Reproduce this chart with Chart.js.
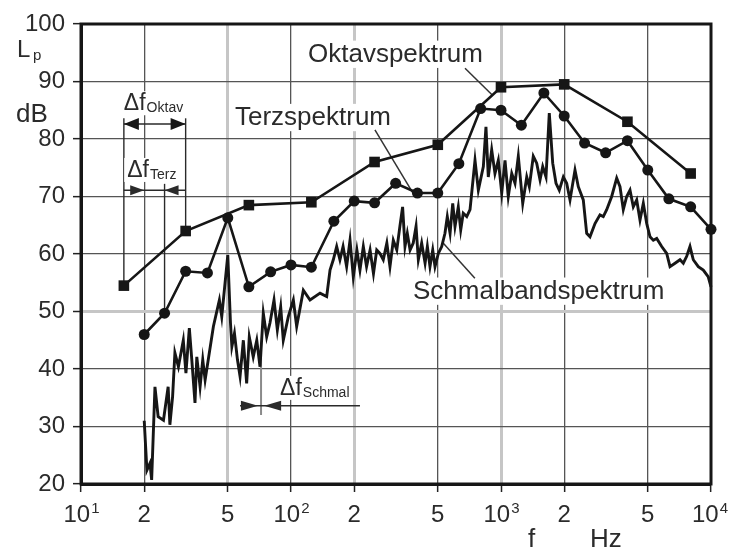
<!DOCTYPE html>
<html>
<head>
<meta charset="utf-8">
<script src="https://cdn.jsdelivr.net/npm/chart.js@4.4.0/dist/chart.umd.min.js"></script>
<style>
  html, body { margin: 0; padding: 0; background: #fff; }
  #wrap { width: 729px; height: 549px; }
</style>
</head>
<body>
<div id="wrap"><canvas id="spectrum" width="729" height="549"></canvas></div>
<script>
// axis ticks: frequency in Hz, level in dB
const xTicks = [10, 20, 50, 100, 200, 500, 1000, 2000, 5000, 10000];
const yTicks = [20, 30, 40, 50, 60, 70, 80, 90, 100];

// octave band spectrum
const octFreq = [16, 31.5, 63, 125, 250, 500, 1000, 2000, 4000, 8000];
const octLevel = [54.5, 64, 68.5, 69, 76, 79, 89, 89.5, 83, 74];

// one-third octave band spectrum
const terzFreq = [20, 25, 31.5, 40, 50, 63, 80, 100, 125, 160, 200, 250, 315, 400, 500,
  630, 800, 1000, 1250, 1600, 2000, 2500, 3150, 4000, 5000, 6300, 8000, 10000];
const terzLevel = [46, 49.7, 57, 56.7, 66.3, 54.3, 56.9, 58.1, 57.7, 65.7, 69.2, 68.9, 72.3, 70.6, 70.6,
  75.7, 85.3, 85, 82.4, 88, 84, 79.3, 77.6, 79.7, 74.6, 69.6, 68.2, 64.3];

// narrow band spectrum
const narrowFreq = [20, 20.6, 21.3, 21.7, 22.5, 23.3, 24.7, 26, 26.5, 27.3, 28, 29.1, 30.7, 31.6, 32.8,
  33.7, 34.9, 35.6, 36.9, 38, 39, 42.7, 45.6, 46.8, 50, 51.5, 52.3, 53.8, 55.6, 57.2,
  59.3, 61.5, 63.3, 66.1, 68.7, 71.2, 73.8, 76.6, 79.4, 83, 86.1, 89.3, 91.9, 97.1, 102.6,
  106.4, 114.5, 123.2, 137.5, 147.9, 153.4, 159, 165, 171, 177, 184, 191, 198, 206, 213,
  221, 229, 238, 247, 256, 265, 275, 286, 296, 307, 319, 330, 340, 349, 358,
  369, 382, 394, 404, 419, 435, 446, 459, 473, 485, 503, 522, 541, 555, 572,
  589, 604, 626, 643, 661, 687, 712, 752, 780, 824, 848, 870, 903, 936, 971,
  1008, 1045, 1083, 1125, 1166, 1209, 1269, 1326, 1364, 1425, 1479, 1534, 1580, 1638, 1698,
  1763, 1828, 1895, 1981, 2055, 2131, 2251, 2334, 2465, 2559, 2653, 2803, 2960, 3070, 3186,
  3366, 3556, 3687, 3823, 3968, 4114, 4266, 4428, 4591, 4761, 4941, 5124, 5313, 5514, 5824,
  6152, 6379, 6740, 7119, 7381, 7661, 7943, 8235, 8700, 9190, 9710, 10000];
const narrowLevel = [31, 22.4, 23.6, 20.7, 36.9, 31.7, 31.1, 36.9, 30.3, 35.2, 42.8, 40.4, 45, 39.3, 47.1,
  41.6, 34.1, 42.1, 36.9, 41.6, 38.1, 47.4, 52, 49.1, 59.8, 48, 43.9, 46.2, 41.6, 38.7,
  45, 37.5, 45.6, 42.1, 45, 40.4, 49.7, 45.6, 48, 52, 46.8, 50.8, 45, 49.1, 52,
  47.4, 53.7, 52, 53.2, 52.6, 57.2, 59, 61.3, 59, 61.3, 57.8, 62.4, 56, 60.7, 57.2,
  61.3, 57.8, 60.7, 56.6, 60.7, 60.1, 59, 61.9, 57.8, 62.4, 60.7, 64.8, 68.2, 61.3, 63.6,
  60.7, 61.9, 64.8, 59, 61.9, 58.4, 61.3, 57.8, 60.7, 57.8, 60.1, 61.3, 63.6, 66.5, 63.6,
  68.8, 64.8, 68.2, 64.2, 67.1, 66.5, 67.7, 76.3, 71.1, 75.2, 82.1, 73.4, 78.1, 74, 76.3,
  70.6, 76.3, 70, 74, 72.3, 77, 68.8, 73.4, 71.7, 77, 75.8, 72.9, 75.2, 73.4, 84.5,
  75.8, 72.3, 71.1, 73.4, 72.3, 69.4, 74.6, 71.7, 69.4, 63.6, 63, 65.3, 66.8, 66.5, 67.7,
  70, 73.2, 71.7, 67.7, 70, 71.1, 68.2, 69.4, 65.9, 68.8, 65.3, 63, 62.4, 62.7, 61.3,
  60.1, 57.8, 58.4, 59, 58.4, 59.6, 61.3, 59, 57.8, 57.2, 56, 54.3];

const FONT = '"Liberation Sans", Arial, Helvetica, sans-serif';
const INK = '#161616';
const TEXT = '#2b2b2b';

// grid lines printed as wide light-grey strokes
const softX = [50, 200, 1000];
const softY = [50];

function toPoints(xs, ys) {
  return xs.map((x, i) => ({ x: x, y: ys[i] }));
}

function arrowHead(ctx, tipX, tipY, dir, len, half) {
  ctx.beginPath();
  ctx.moveTo(tipX, tipY);
  ctx.lineTo(tipX - dir * len, tipY - half);
  ctx.lineTo(tipX - dir * len, tipY + half);
  ctx.closePath();
  ctx.fill();
}

function line(ctx, x1, y1, x2, y2) {
  ctx.beginPath();
  ctx.moveTo(x1, y1);
  ctx.lineTo(x2, y2);
  ctx.stroke();
}

// text on a white patch so the grid breaks behind it
function patchText(ctx, text, x, y, size) {
  ctx.font = size + 'px ' + FONT;
  const w = ctx.measureText(text).width;
  ctx.fillStyle = '#fff';
  ctx.fillRect(x - 3, y - size * 0.82, w + 6, size * 1.05);
  ctx.fillStyle = TEXT;
  ctx.fillText(text, x, y);
  return w;
}

// "Δf" with a subscript
function deltaLabel(ctx, sub, x, y) {
  ctx.font = '23px ' + FONT;
  const w1 = ctx.measureText('\u0394f').width;
  ctx.font = '14px ' + FONT;
  const w2 = ctx.measureText(sub).width;
  ctx.fillStyle = '#fff';
  ctx.fillRect(x - 3, y - 19, w1 + w2 + 6, 24);
  ctx.fillStyle = TEXT;
  ctx.font = '23px ' + FONT;
  ctx.fillText('\u0394f', x, y);
  ctx.font = '14px ' + FONT;
  ctx.fillText(sub, x + w1 + 1, y + 2);
}

const decor = {
  id: 'decor',
  beforeDatasetsDraw(chart) {
    const { ctx, chartArea: a, scales } = chart;
    const px = f => scales.x.getPixelForValue(f);
    const py = v => scales.y.getPixelForValue(v);
    ctx.save();
    ctx.textBaseline = 'alphabetic';
    ctx.textAlign = 'left';

    // curve names and leader lines
    patchText(ctx, 'Oktavspektrum', px(120.5), py(93.4), 26);
    patchText(ctx, 'Terzspektrum', px(54.1), py(82.4), 26);
    patchText(ctx, 'Schmalbandspektrum', px(381), py(52.2), 26);
    ctx.strokeStyle = '#333';
    ctx.lineWidth = 1.5;
    line(ctx, px(674), py(92.3), px(906), py(87.7));
    line(ctx, px(251), py(81.6), px(381), py(70.6));
    line(ctx, px(530), py(61.9), px(751), py(55.8));

    // octave band width
    ctx.fillStyle = INK;
    ctx.strokeStyle = '#2a2a2a';
    ctx.lineWidth = 1.4;
    const o0 = px(octFreq[0]), o1 = px(octFreq[1]);
    line(ctx, o0, py(83.6), o0, py(octLevel[0]));
    line(ctx, o1, py(83.6), o1, py(octLevel[1]));
    line(ctx, o0, py(82.6), o1, py(82.6));
    arrowHead(ctx, o0, py(82.6), -1, 15, 6);
    arrowHead(ctx, o1, py(82.6), 1, 15, 6);
    deltaLabel(ctx, 'Oktav', px(16), py(85));

    // third-octave band width
    const t0 = px(terzFreq[0]), t1 = px(terzFreq[1]);
    line(ctx, t1, py(72.2), t1, py(terzLevel[1]));
    line(ctx, o0, py(71.1), o1, py(71.1));
    arrowHead(ctx, t0, py(71.1), 1, 14, 5);
    arrowHead(ctx, t1, py(71.1), -1, 14, 5);
    deltaLabel(ctx, 'Terz', px(16.6), py(73.4));

    // narrow band resolution
    ctx.strokeStyle = '#8a8a8a';
    ctx.lineWidth = 2;
    line(ctx, px(72), py(42.8), px(72), py(32));
    ctx.strokeStyle = '#2a2a2a';
    ctx.lineWidth = 1.4;
    line(ctx, px(57.2), py(33.6), px(213), py(33.6));
    arrowHead(ctx, px(69.6), py(33.6), 1, 17, 5);
    arrowHead(ctx, px(74.5), py(33.6), -1, 17, 5);
    deltaLabel(ctx, 'Schmal', px(88.7), py(35.5));

    // plot frame
    ctx.strokeStyle = INK;
    ctx.lineWidth = 3;
    ctx.strokeRect(a.left, a.top, a.right - a.left, a.bottom - a.top);
    ctx.restore();
  },
  afterDraw(chart) {
    const { ctx, scales } = chart;
    const px = f => scales.x.getPixelForValue(f);
    ctx.save();
    ctx.fillStyle = TEXT;
    ctx.textBaseline = 'alphabetic';
    ctx.textAlign = 'left';

    // frequency tick labels, decades as powers of ten
    const base = 522;
    xTicks.forEach(v => {
      const exp = Math.round(Math.log10(v) * 1000) / 1000;
      const cx = px(v);
      if (Number.isInteger(exp)) {
        ctx.font = '24px ' + FONT;
        const w1 = ctx.measureText('10').width;
        ctx.font = '15px ' + FONT;
        const w2 = ctx.measureText(String(exp)).width;
        const left = Math.min(cx - (w1 + w2) / 2, 727 - w1 - w2);
        ctx.font = '24px ' + FONT;
        ctx.fillText('10', left, base);
        ctx.font = '15px ' + FONT;
        ctx.fillText(String(exp), left + w1 + 1, base - 9);
      } else {
        const m = String(Math.round(v / Math.pow(10, Math.floor(exp))));
        ctx.font = '24px ' + FONT;
        const w = ctx.measureText(m).width;
        ctx.fillText(m, cx - w / 2, base);
      }
    });

    // axis titles
    ctx.font = '24px ' + FONT;
    ctx.fillText('L', 17, 57);
    ctx.font = '15px ' + FONT;
    ctx.fillText('p', 33, 60);
    ctx.font = '26px ' + FONT;
    ctx.fillText('dB', 16, 122);
    ctx.fillText('f', 528, 547);
    ctx.fillText('Hz', 590, 547);
    ctx.restore();
  }
};

const gridX = {
  color: c => (c.tick && softX.includes(c.tick.value)) ? '#c6c6c6' : '#555',
  lineWidth: c => (c.tick && softX.includes(c.tick.value)) ? 3 : 1.3,
  tickColor: '#222',
  tickWidth: 1.5,
  tickLength: 8
};
const gridY = {
  color: c => (c.tick && softY.includes(c.tick.value)) ? '#c6c6c6' : '#555',
  lineWidth: c => (c.tick && softY.includes(c.tick.value)) ? 3 : 1.3,
  tickColor: '#222',
  tickWidth: 1.5,
  tickLength: 8
};

new Chart(document.getElementById('spectrum'), {
  type: 'line',
  data: {
    datasets: [
      {
        label: 'Oktavspektrum',
        data: toPoints(octFreq, octLevel),
        borderColor: INK,
        borderWidth: 2.6,
        pointStyle: 'rect',
        pointRadius: 7.5,
        pointBackgroundColor: INK,
        pointBorderWidth: 0,
        clip: false
      },
      {
        label: 'Terzspektrum',
        data: toPoints(terzFreq, terzLevel),
        borderColor: INK,
        borderWidth: 2.6,
        pointStyle: 'circle',
        pointRadius: 5.5,
        pointBackgroundColor: INK,
        pointBorderWidth: 0,
        clip: false
      },
      {
        label: 'Schmalbandspektrum',
        data: toPoints(narrowFreq, narrowLevel),
        borderColor: INK,
        borderWidth: 2.9,
        borderJoinStyle: 'miter',
        pointRadius: 0,
        clip: false
      }
    ]
  },
  options: {
    responsive: false,
    animation: false,
    devicePixelRatio: 1,
    layout: { padding: { top: 24, right: 18, left: 0, bottom: 0 } },
    plugins: { legend: { display: false }, tooltip: { enabled: false } },
    elements: { line: { tension: 0, borderJoinStyle: 'miter', fill: false } },
    scales: {
      x: {
        type: 'logarithmic',
        min: 10,
        max: 10000,
        afterBuildTicks: s => { s.ticks = xTicks.map(v => ({ value: v })); },
        afterFit: s => { s.height = 65; },
        ticks: { display: false },
        grid: gridX,
        border: { color: INK, width: 3 }
      },
      y: {
        min: 20,
        max: 100,
        afterBuildTicks: s => { s.ticks = yTicks.map(v => ({ value: v })); },
        afterFit: s => { s.width = 81; },
        ticks: { font: { family: FONT, size: 24 }, color: TEXT, padding: 8 },
        grid: gridY,
        border: { color: INK, width: 3 }
      }
    }
  },
  plugins: [decor]
});
</script>
</body>
</html>
